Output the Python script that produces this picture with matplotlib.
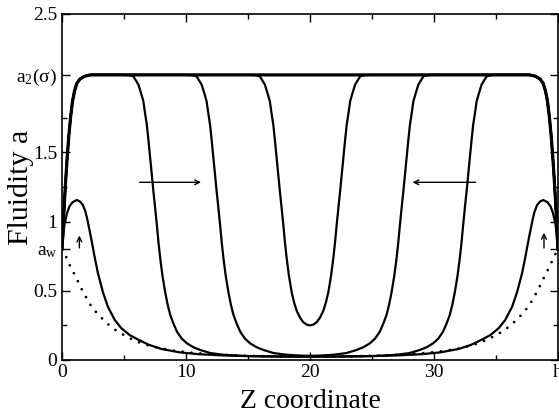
import matplotlib
matplotlib.use("Agg")
import matplotlib.pyplot as plt

plt.rcParams['font.family'] = ['Liberation Serif', 'DejaVu Serif']
plt.rcParams['mathtext.fontset'] = 'custom'
plt.rcParams['mathtext.rm'] = 'Liberation Serif'
plt.rcParams['mathtext.it'] = 'Liberation Serif:italic'

# ---- fluidity profiles a(z) across the channel 0..h ----
# fully fluidised profile (plateau at a2)
z_full = [0, 0.1, 0.2, 0.3, 0.4, 0.55, 0.7, 0.85, 1.0, 1.2, 1.45, 1.8, 2.3,
          37.7, 38.2, 38.55, 38.8, 39.0, 39.15, 39.3, 39.45, 39.6, 39.7, 39.8, 39.9, 40]
a_full = [0.80, 0.98, 1.15, 1.30, 1.44, 1.62, 1.76, 1.87, 1.94, 2.00, 2.03, 2.05, 2.06,
          2.06, 2.05, 2.03, 2.00, 1.94, 1.87, 1.76, 1.62, 1.44, 1.30, 1.15, 0.98, 0.80]

# fronts near z = 7 and z = 33
z_front1 = [0, 0.1, 0.2, 0.3, 0.4, 0.55, 0.7, 0.85, 1.0, 1.2, 1.45, 1.8, 2.3,
            5.0, 5.4, 5.75, 6.16, 6.40, 6.56, 6.72, 6.84, 6.98, 7.11, 7.24, 7.37, 7.51,
            7.65, 7.78, 7.92, 8.10, 8.32, 8.52, 8.73, 9.00, 9.27, 9.65, 10.08, 10.6,
            11.16, 11.97, 13.0, 14.5, 16.5, 20.0,
            23.5, 25.5, 27.0, 28.03, 28.84, 29.4, 29.92, 30.35, 30.73, 31.0, 31.27,
            31.48, 31.68, 31.9, 32.08, 32.22, 32.35, 32.49, 32.63, 32.76, 32.89, 33.02,
            33.16, 33.28, 33.44, 33.6, 33.84, 34.25, 34.6, 35.0,
            37.7, 38.2, 38.55, 38.8, 39.0, 39.15, 39.3, 39.45, 39.6, 39.7, 39.8, 39.9, 40]
a_front1 = [0.80, 0.98, 1.15, 1.30, 1.44, 1.62, 1.76, 1.87, 1.94, 2.00, 2.03, 2.05, 2.06,
            2.06, 2.058, 2.05, 1.99, 1.92, 1.87, 1.77, 1.70, 1.58, 1.46, 1.34, 1.22, 1.10,
            0.975, 0.85, 0.735, 0.61, 0.49, 0.40, 0.325, 0.26, 0.205, 0.155, 0.12, 0.092,
            0.072, 0.05, 0.038, 0.030, 0.026, 0.024,
            0.026, 0.030, 0.038, 0.05, 0.072, 0.092, 0.12, 0.155, 0.205, 0.26, 0.325,
            0.40, 0.49, 0.61, 0.735, 0.85, 0.975, 1.10, 1.22, 1.34, 1.46, 1.58,
            1.70, 1.77, 1.87, 1.92, 1.99, 2.05, 2.058, 2.06,
            2.06, 2.05, 2.03, 2.00, 1.94, 1.87, 1.76, 1.62, 1.44, 1.30, 1.15, 0.98, 0.80]

# fronts near z = 12 and z = 28
z_front2 = [0, 0.1, 0.2, 0.3, 0.4, 0.55, 0.7, 0.85, 1.0, 1.2, 1.45, 1.8, 2.3,
            10.1, 10.5, 10.85, 11.26, 11.50, 11.66, 11.82, 11.94, 12.08, 12.21, 12.34,
            12.47, 12.61, 12.75, 12.88, 13.02, 13.20, 13.42, 13.62, 13.83, 14.10, 14.37,
            14.75, 15.18, 15.7, 16.26, 17.07, 18.1, 19.2, 20.0,
            20.8, 21.9, 22.93, 23.74, 24.3, 24.82, 25.25, 25.63, 25.9, 26.17, 26.38,
            26.58, 26.8, 26.98, 27.12, 27.25, 27.39, 27.53, 27.66, 27.79, 27.92, 28.06,
            28.18, 28.34, 28.5, 28.74, 29.15, 29.5, 29.9,
            37.7, 38.2, 38.55, 38.8, 39.0, 39.15, 39.3, 39.45, 39.6, 39.7, 39.8, 39.9, 40]
a_front2 = [0.80, 0.98, 1.15, 1.30, 1.44, 1.62, 1.76, 1.87, 1.94, 2.00, 2.03, 2.05, 2.06,
            2.06, 2.058, 2.05, 1.99, 1.92, 1.87, 1.77, 1.70, 1.58, 1.46, 1.34,
            1.22, 1.10, 0.975, 0.85, 0.735, 0.61, 0.49, 0.40, 0.325, 0.26, 0.205,
            0.155, 0.12, 0.092, 0.072, 0.05, 0.038, 0.032, 0.030,
            0.032, 0.038, 0.05, 0.072, 0.092, 0.12, 0.155, 0.205, 0.26, 0.325, 0.40,
            0.49, 0.61, 0.735, 0.85, 0.975, 1.10, 1.22, 1.34, 1.46, 1.58, 1.70,
            1.77, 1.87, 1.92, 1.99, 2.05, 2.058, 2.06,
            2.06, 2.05, 2.03, 2.00, 1.94, 1.87, 1.76, 1.62, 1.44, 1.30, 1.15, 0.98, 0.80]

# fronts meeting in the middle of the channel
z_front3 = [0, 0.1, 0.2, 0.3, 0.4, 0.55, 0.7, 0.85, 1.0, 1.2, 1.45, 1.8, 2.3,
            15.2, 15.6, 15.95, 16.36, 16.60, 16.76, 16.92, 17.04, 17.18, 17.31, 17.44,
            17.57, 17.71, 17.85, 17.98, 18.12, 18.30, 18.52, 18.72, 18.93, 19.2, 19.47,
            19.75, 20.0,
            20.25, 20.53, 20.8, 21.07, 21.28, 21.48, 21.7, 21.88, 22.02, 22.15, 22.29,
            22.43, 22.56, 22.69, 22.82, 22.96, 23.08, 23.24, 23.4, 23.64, 24.05, 24.4, 24.8,
            37.7, 38.2, 38.55, 38.8, 39.0, 39.15, 39.3, 39.45, 39.6, 39.7, 39.8, 39.9, 40]
a_front3 = [0.80, 0.98, 1.15, 1.30, 1.44, 1.62, 1.76, 1.87, 1.94, 2.00, 2.03, 2.05, 2.06,
            2.06, 2.058, 2.05, 1.99, 1.92, 1.87, 1.77, 1.70, 1.58, 1.46, 1.34,
            1.22, 1.10, 0.975, 0.85, 0.735, 0.61, 0.49, 0.415, 0.355, 0.305, 0.272,
            0.255, 0.25,
            0.255, 0.272, 0.305, 0.355, 0.415, 0.49, 0.61, 0.735, 0.85, 0.975, 1.10,
            1.22, 1.34, 1.46, 1.58, 1.70, 1.77, 1.87, 1.92, 1.99, 2.05, 2.058, 2.06,
            2.06, 2.05, 2.03, 2.00, 1.94, 1.87, 1.76, 1.62, 1.44, 1.30, 1.15, 0.98, 0.80]

# profile with wall bumps
z_bump = [0, 0.19, 0.4, 0.6, 0.85, 1.19, 1.45, 1.68, 1.9, 2.08, 2.35, 2.62, 2.89, 3.3,
          3.7, 4.25, 4.78, 5.46, 6.08, 7.0, 8.0, 9.5, 11.0, 13.0, 15.0, 17.5, 20.0,
          22.5, 25.0, 27.0, 29.0, 30.5, 32.0, 33.0, 33.92, 34.54, 35.22, 35.75, 36.3,
          36.7, 37.11, 37.38, 37.65, 37.92, 38.1, 38.32, 38.55, 38.81, 39.15, 39.4,
          39.6, 39.81, 40.0]
a_bump = [0.80, 0.975, 1.06, 1.11, 1.14, 1.156, 1.145, 1.12, 1.07, 1.00, 0.88, 0.75,
          0.63, 0.49, 0.385, 0.29, 0.23, 0.18, 0.15, 0.11, 0.08, 0.055, 0.042, 0.033,
          0.028, 0.025, 0.024,
          0.025, 0.028, 0.033, 0.042, 0.055, 0.08, 0.11, 0.15, 0.18, 0.23, 0.29, 0.385,
          0.49, 0.63, 0.75, 0.88, 1.00, 1.07, 1.12, 1.145, 1.156, 1.14, 1.11,
          1.06, 0.975, 0.80]

# initial (dotted) profile
z_init = [0, 0.33, 0.65, 1.0, 1.33, 1.65, 2.0, 2.35, 2.81, 3.3, 3.78, 4.38, 5.0, 5.59,
          6.3, 7.0, 8.0, 9.0, 10.5, 12.0, 14.0, 16.0, 18.0, 20.0,
          22.0, 24.0, 26.0, 28.0, 29.5, 31.0, 32.0, 33.0, 33.7, 34.41, 35.0, 35.62,
          36.22, 36.7, 37.19, 37.65, 38.0, 38.35, 38.67, 39.0, 39.35, 39.67, 40.0]
a_init = [0.80, 0.746, 0.68, 0.62, 0.56, 0.50, 0.445, 0.39, 0.34, 0.294, 0.253, 0.212,
          0.18, 0.152, 0.125, 0.105, 0.083, 0.068, 0.052, 0.042, 0.033, 0.028, 0.025,
          0.024,
          0.025, 0.028, 0.033, 0.042, 0.052, 0.068, 0.083, 0.105, 0.125, 0.152, 0.18,
          0.212, 0.253, 0.294, 0.34, 0.39, 0.445, 0.50, 0.56, 0.62, 0.68, 0.746, 0.80]

# axis ticks
a_w = 0.80
a_2 = 2.06
y_major = [0, 0.5, a_w, 1, 1.5, a_2, 2.5]
y_major_labels = ['0', '0.5', r'$\mathregular{a_w}$', '1', '1.5',
                  r'$\mathregular{a_2(σ)}$', '2.5']
y_minor = [0.25, 1.25, 1.75]
x_major = [0, 10, 20, 30, 40]
x_major_labels = ['0', '10', '20', '30', 'h']
x_minor = [5, 15, 25, 35]

fig = plt.figure(figsize=(5.59, 4.13), dpi=100)
ax = fig.add_axes([62 / 559, 53 / 413, 496 / 559, 346 / 413])

ax.plot(z_init, a_init, color='black', lw=2.0, linestyle=(0, (0.01, 3.2)),
        dash_capstyle='round')
ax.plot(z_bump, a_bump, color='black', lw=1.6)
ax.plot(z_front1, a_front1, color='black', lw=1.6)
ax.plot(z_front2, a_front2, color='black', lw=1.6)
ax.plot(z_front3, a_front3, color='black', lw=1.6)
ax.plot(z_full, a_full, color='black', lw=2.3)

# propagation arrows
arrow_kw = dict(arrowstyle='->, head_length=0.35, head_width=0.17', lw=1.0,
                color='black', shrinkA=0, shrinkB=0)
ax.annotate('', xy=(11.22, 1.284), xytext=(6.26, 1.284), arrowprops=arrow_kw)
ax.annotate('', xy=(28.26, 1.284), xytext=(33.36, 1.284), arrowprops=arrow_kw)
ax.annotate('', xy=(1.40, 0.90), xytext=(1.40, 0.81), arrowprops=arrow_kw)
ax.annotate('', xy=(38.87, 0.92), xytext=(38.87, 0.81), arrowprops=arrow_kw)

ax.set_xlim(0, 40)
ax.set_ylim(0, 2.5)
ax.set_xticks(x_major)
ax.set_xticklabels(x_major_labels)
ax.set_xticks(x_minor, minor=True)
ax.set_yticks(y_major)
ax.set_yticklabels(y_major_labels)
ax.set_yticks(y_minor, minor=True)

ax.tick_params(which='both', direction='in', top=True, right=True, labelsize=14,
               width=1.0)
ax.tick_params(which='major', length=6)
ax.tick_params(which='minor', length=3.5)
ax.tick_params(axis='x', which='both', pad=3)
ax.tick_params(axis='y', which='both', pad=3.5)
for sp in ax.spines.values():
    sp.set_linewidth(1.2)

ax.set_xlabel('Z coordinate', fontsize=20)
ax.xaxis.set_label_coords(0.5, -0.084)
ax.set_ylabel('Fluidity a', fontsize=21.5)
ax.yaxis.set_label_coords(-0.057, 0.5)

fig.savefig('out.png', dpi=100)
